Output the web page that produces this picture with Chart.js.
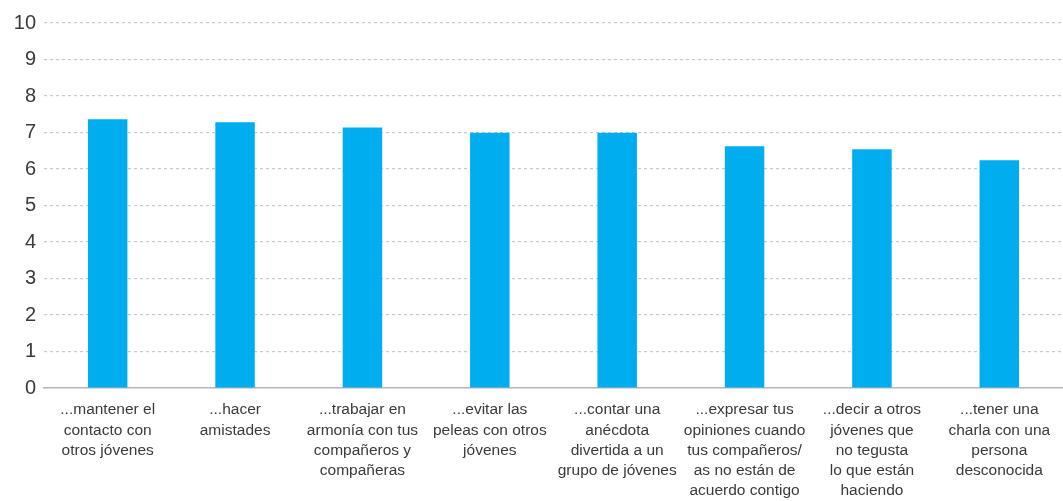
<!DOCTYPE html>
<html>
<head>
<meta charset="utf-8">
<script src="https://cdn.jsdelivr.net/npm/chart.js@4"></script>
<style>
  html, body { margin: 0; padding: 0; background: #fff; }
  #wrap { width: 1063px; height: 501px; }
</style>
</head>
<body>
<div id="wrap"><canvas id="barChart"></canvas></div>
<script>
const categories = [
    ['...mantener el', 'contacto con', 'otros jóvenes'],
    ['...hacer', 'amistades'],
    ['...trabajar en', 'armonía con tus', 'compañeros y', 'compañeras'],
    ['...evitar las', 'peleas con otros', 'jóvenes'],
    ['...contar una', 'anécdota', 'divertida a un', 'grupo de jóvenes'],
    ['...expresar tus', 'opiniones cuando', 'tus compañeros/', 'as no están de', 'acuerdo contigo'],
    ['...decir a otros', 'jóvenes que', 'no tegusta', 'lo que están', 'haciendo'],
    ['...tener una', 'charla con una', 'persona', 'desconocida']
];
const values = [7.36, 7.28, 7.14, 6.99, 6.99, 6.62, 6.54, 6.24];
const yTicks = [0, 1, 2, 3, 4, 5, 6, 7, 8, 9, 10];

const ctx = document.getElementById('barChart');

new Chart(ctx, {
    type: 'bar',
    data: {
        labels: categories,
        datasets: [{
            data: values,
            backgroundColor: '#00aeef',
            borderWidth: 0,
            barPercentage: 0.31,
            categoryPercentage: 1
        }]
    },
    options: {
        responsive: true,
        maintainAspectRatio: false,
        animation: false,
        layout: {
            padding: { top: 23, right: 0, left: 4, bottom: 0 }
        },
        plugins: {
            legend: { display: false },
            tooltip: { enabled: false }
        },
        scales: {
            x: {
                afterFit: (axis) => { axis.height = 113; },
                grid: { display: false, drawTicks: false },
                border: { display: true, color: '#b4b4bc', width: 1.5 },
                ticks: {
                    color: '#3a3a3a',
                    padding: 12,
                    maxRotation: 0,
                    autoSkip: false,
                    font: { family: 'Liberation Sans', size: 15.5, lineHeight: 1.3 }
                }
            },
            y: {
                min: 0,
                max: 10,
                afterBuildTicks: (axis) => { axis.ticks = yTicks.map(v => ({ value: v })); },
                afterFit: (axis) => { axis.width = 40; },
                grid: {
                    drawTicks: false,
                    color: (c) => c.tick && c.tick.value === 0 ? 'rgba(0,0,0,0)' : '#c9c9c9',
                    lineWidth: 1.2
                },
                border: { display: false, dash: [3, 3] },
                ticks: {
                    color: '#3a3a3a',
                    padding: 8,
                    font: { family: 'Liberation Sans', size: 20 }
                }
            }
        }
    }
});
</script>
</body>
</html>
